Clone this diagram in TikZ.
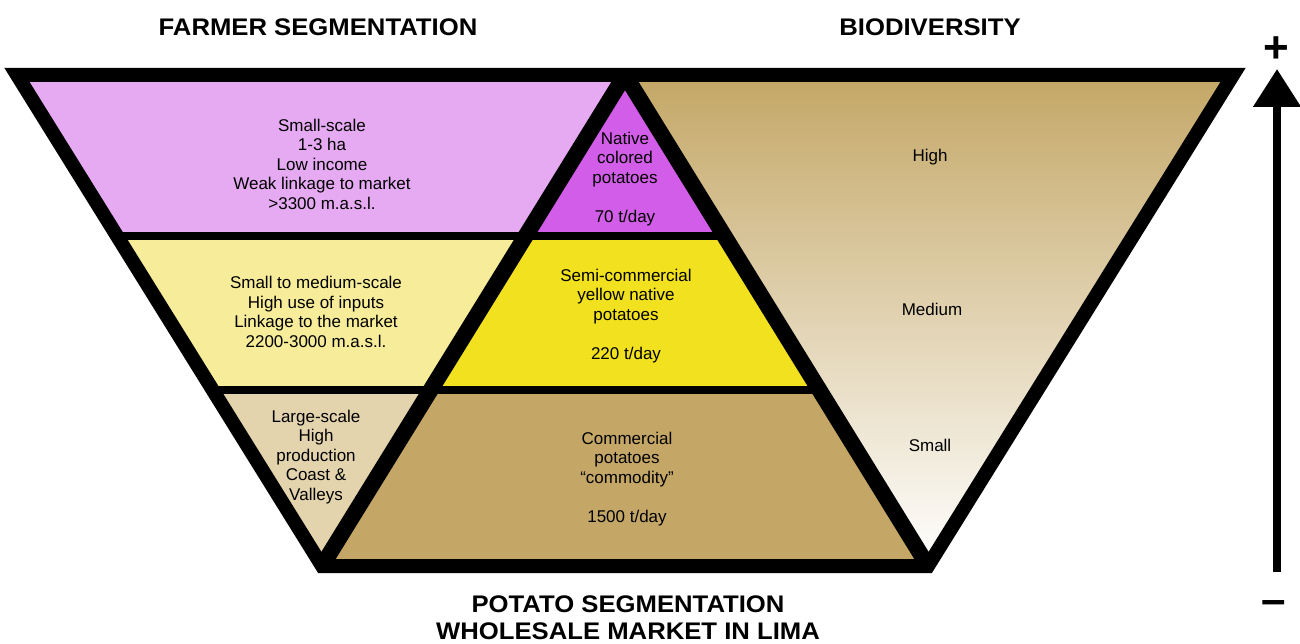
\documentclass[tikz,border=0pt]{standalone}
\usepackage{fontspec}
\setmainfont{Liberation Sans}
\newfontfamily\titlefont[FakeStretch=1.07]{Liberation Sans}
\usetikzlibrary{arrows.meta,calc}

\definecolor{smallpink}{RGB}{230,170,242}
\definecolor{nativepurple}{RGB}{210,93,232}
\definecolor{mediumyellow}{RGB}{247,236,154}
\definecolor{semiyellow}{RGB}{242,225,30}
\definecolor{largebeige}{RGB}{227,212,174}
\definecolor{commercialtan}{RGB}{196,167,102}

\begin{document}
\begin{tikzpicture}[x=1pt,y=-1pt,
                    lbl/.style={align=center,font=\fontsize{17}{19.5}\selectfont},
                    ttl/.style={anchor=base,font=\titlefont\fontsize{24}{27}\selectfont\bfseries},
                    sign/.style={font=\fontsize{44}{44}\selectfont\bfseries},
                    frame/.style={line width=14pt,line join=miter},
                    diag/.style={line width=16pt},
                    divider/.style={line width=8pt},
                    biodarrow/.style={line width=8pt,-{Triangle[width=46pt,length=38pt]}}]

  \useasboundingbox (0,0) rectangle (1300,644);

  % corners of the big funnel
  \coordinate (tl)   at (17,75);
  \coordinate (tr)   at (1233,75);
  \coordinate (br)   at (928,566);
  \coordinate (bl)   at (322,566);
  \coordinate (apex) at (625,75);

  % ends of the two dividers
  \coordinate (d1l) at ($(tl)!0.328!(bl)$);
  \coordinate (d1m) at ($(apex)!0.328!(bl)$);
  \coordinate (d1r) at ($(apex)!0.328!(br)$);
  \coordinate (d2l) at ($(tl)!0.6415!(bl)$);
  \coordinate (d2m) at ($(apex)!0.6415!(bl)$);
  \coordinate (d2r) at ($(apex)!0.6415!(br)$);

  % fills
  \fill[smallpink]     (tl) -- (apex) -- (d1m) -- (d1l) -- cycle;
  \fill[nativepurple]  (apex) -- (d1r) -- (d1m) -- cycle;
  \fill[mediumyellow]  (d1l) -- (d1m) -- (d2m) -- (d2l) -- cycle;
  \fill[semiyellow]    (d1m) -- (d1r) -- (d2r) -- (d2m) -- cycle;
  \fill[largebeige]    (d2l) -- (d2m) -- (bl) -- cycle;
  \fill[commercialtan] (d2m) -- (d2r) -- (br) -- (bl) -- cycle;
  \shade[top color=commercialtan,bottom color=white] (apex) -- (tr) -- (br) -- cycle;

  % black borders
  \draw[divider] (d1l) -- (d1r);
  \draw[divider] (d2l) -- (d2r);
  \draw[diag] (bl) -- (apex);
  \draw[diag] (apex) -- (br);
  \draw[frame] (tl) -- (tr) -- (br) -- (bl) -- cycle;

  % labels
  \node[lbl] (farmsmall)     at (322,164) {Small-scale\\1-3 ha\\Low income\\Weak linkage to market\\>3300 m.a.s.l.};
  \node[lbl] (farmmedium)    at (316,312) {Small to medium-scale\\High use of inputs\\Linkage to the market\\2200-3000 m.a.s.l.};
  \node[lbl] (farmlarge)     at (316,457) {Large-scale\\High\\production\\Coast \&\\Valleys};
  \node[lbl] (potnative)     at (625,179) {Native\\colored\\potatoes\\[19.5pt]70 t/day};
  \node[lbl] (potsemi)       at (626,316) {Semi-commercial\\yellow native\\potatoes\\[19.5pt]220 t/day};
  \node[lbl] (potcommercial) at (627,479) {Commercial\\potatoes\\“commodity”\\[19.5pt]1500 t/day};
  \node[lbl] (biohigh)       at (930,157) {High};
  \node[lbl] (biomedium)     at (932,309) {Medium};
  \node[lbl] (biosmall)      at (930,445) {Small};

  \node[ttl] (farmtitle)   at (318,36)  {FARMER SEGMENTATION};
  \node[ttl] (biotitle)    at (930,36)  {BIODIVERSITY};
  \node[ttl] (pottitle)    at (628,612) {POTATO SEGMENTATION};
  \node[ttl] (markettitle) at (628,639) {WHOLESALE MARKET IN LIMA};

  % biodiversity scale
  \node[sign] (plus)  at (1276,50)  {+};
  \node[sign] (minus) at (1274,608) {–};
  \coordinate (arrowfoot) at (1277,572);
  \coordinate (arrowtip)  at (1277,69);
  \draw[biodarrow] (arrowfoot) -- (arrowtip);

\end{tikzpicture}
\end{document}
